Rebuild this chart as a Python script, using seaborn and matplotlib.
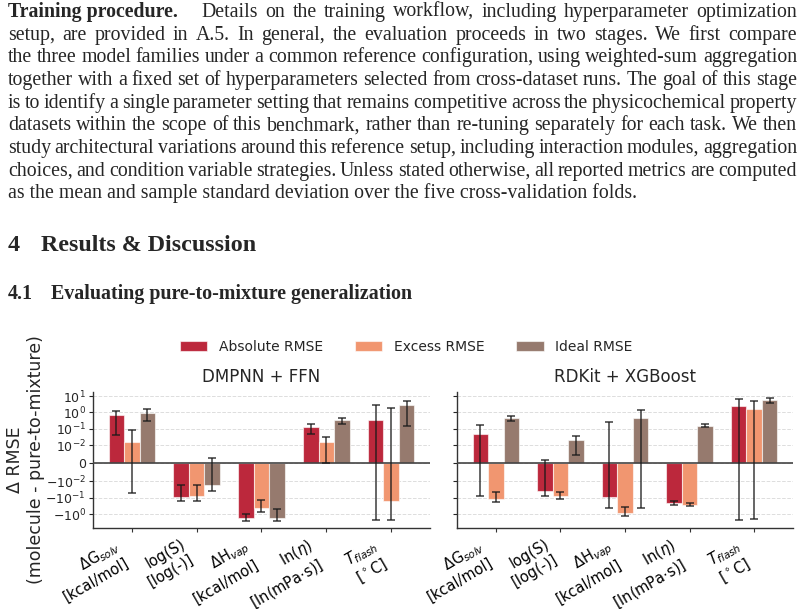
import numpy as np
import pandas as pd
import matplotlib
matplotlib.use("Agg")
import matplotlib.pyplot as plt
from matplotlib.ticker import NullLocator
import seaborn as sns

## dados ##
properties = ["dG_solv", "logS", "dH_vap", "ln_eta", "T_flash"]
tick_labels = [r"$\Delta$G$_{solv}$" + "\n[kcal/mol]",
               "log(S)\n[log(-)]",
               r"$\Delta$H$_{vap}$" + "\n[kcal/mol]",
               r"ln($\eta$)" + "\n" + r"[ln(mPa$\cdot$s)]",
               r"$T_{flash}$" + "\n" + r"[$^\circ$C]"]
metrics = ["Absolute RMSE", "Excess RMSE", "Ideal RMSE"]
colors = ["#BC283C", "#F19670", "#967A6E"]

# DMPNN + FFN
dmpnn_abs = [0.68, -0.085, -1.85, 0.127, 0.35]
dmpnn_abs_err = [0.64, 0.068, 0.93, 0.078, 2.65]
dmpnn_exc = [0.015, -0.082, -0.45, 0.016, -0.15]
dmpnn_exc_err = [0.066, 0.066, 0.305, 0.016, 2.15]
dmpnn_ide = [0.95, -0.017, -1.65, 0.34, 2.7]
dmpnn_ide_err = [0.66, 0.020, 1.15, 0.15, 2.55]

# RDKit + XGBoost
rdkit_abs = [0.045, -0.036, -0.092, -0.216, 2.4]
rdkit_abs_err = [0.125, 0.038, 0.36, 0.068, 4.65]
rdkit_exc = [-0.118, -0.077, -0.84, -0.27, 1.65]
rdkit_exc_err = [0.072, 0.034, 0.48, 0.05, 3.7]
rdkit_ide = [0.47, 0.021, 0.48, 0.157, 5.55]
rdkit_ide_err = [0.18, 0.0165, 0.9, 0.03, 1.85]

modelos = [("DMPNN + FFN", [dmpnn_abs, dmpnn_exc, dmpnn_ide], [dmpnn_abs_err, dmpnn_exc_err, dmpnn_ide_err]),
           ("RDKit + XGBoost", [rdkit_abs, rdkit_exc, rdkit_ide], [rdkit_abs_err, rdkit_exc_err, rdkit_ide_err])]

sns.set_theme(style="ticks")
plt.rcParams["font.family"] = ["DejaVu Sans"]

W, H = 804, 609
fig = plt.figure(figsize=(W / 100, H / 100), dpi=100)
fig.patch.set_facecolor("white")

## texto do artigo acima do grafico ##
serif = "Liberation Serif"
body_size = 14.3
linhas = [
    "setup, are provided in A.5.  In general, the evaluation proceeds in two stages.  We first compare",
    "the three model families under a common reference configuration, using weighted-sum aggregation",
    "together with a fixed set of hyperparameters selected from cross-dataset runs. The goal of this stage",
    "is to identify a single parameter setting that remains competitive across the physicochemical property",
    "datasets within the scope of this benchmark, rather than re-tuning separately for each task. We then",
    "study architectural variations around this reference setup, including interaction modules, aggregation",
    "choices, and condition variable strategies. Unless stated otherwise, all reported metrics are computed",
]
ultima = "as the mean and sample standard deviation over the five cross-validation folds."

renderer = fig.canvas.get_renderer()
x_esq, x_dir = 8, 797


def fy(ypx):
    return 1 - ypx / H


def justificar(palavras, ybase, x0, x1):
    ts = [fig.text(0, fy(ybase), p, fontsize=body_size, family=serif, va="baseline") for p in palavras]
    larg = [t.get_window_extent(renderer).width for t in ts]
    gap = (x1 - x0 - sum(larg)) / (len(ts) - 1)
    x = x0
    for t, w in zip(ts, larg):
        t.set_x(x / W)
        x += w + gap


base0, passo = 17, 22.65
tb = fig.text(x_esq / W, fy(base0), "Training procedure.", fontsize=body_size, family=serif,
              weight="bold", va="baseline")
x_start = x_esq + tb.get_window_extent(renderer).width + 24
justificar("Details on the training workflow, including hyperparameter optimization".split(),
           base0, x_start, x_dir)
for i, linha in enumerate(linhas):
    justificar(linha.split(), base0 + passo * (i + 1), x_esq, x_dir)
fig.text(x_esq / W, fy(base0 + passo * 8), ultima, fontsize=body_size, family=serif, va="baseline")

fig.text(x_esq / W, fy(251), "4", fontsize=17.3, family=serif, weight="bold", va="baseline")
fig.text(41 / W, fy(251), "Results & Discussion", fontsize=17.3, family=serif, weight="bold", va="baseline")
fig.text(x_esq / W, fy(299), "4.1", fontsize=14.4, family=serif, weight="bold", va="baseline")
fig.text(51 / W, fy(299), "Evaluating pure-to-mixture generalization", fontsize=14.4, family=serif,
         weight="bold", va="baseline")

## graficos ##
ax_bottom = 1 - 528.3 / H
ax_h = (528.3 - 391.7) / H
ax1 = fig.add_axes([93 / W, ax_bottom, 337 / W, ax_h])
ax2 = fig.add_axes([457 / W, ax_bottom, 336 / W, ax_h])

yticks = [-1, -0.1, -0.01, 0, 0.01, 0.1, 1, 10]
yticklabels = [r"$-10^{0}$", r"$-10^{-1}$", r"$-10^{-2}$", "0", r"$10^{-2}$", r"$10^{-1}$", r"$10^{0}$", r"$10^{1}$"]

for k, (ax, (nome, vals, errs)) in enumerate(zip([ax1, ax2], modelos)):
    df = pd.DataFrame({
        "property": np.tile(properties, 3),
        "metric": np.repeat(metrics, len(properties)),
        "value": np.concatenate(vals),
    })
    sns.barplot(data=df, x="property", y="value", hue="metric", order=properties, hue_order=metrics,
                palette=colors, width=0.72, errorbar=None, ax=ax, saturation=1,
                edgecolor=(1, 1, 1, 0.6), linewidth=0.8, legend=(k == 0))
    for cont, err in zip(ax.containers, errs):
        xs = [b.get_x() + b.get_width() / 2 for b in cont]
        ys = [b.get_height() for b in cont]
        ax.errorbar(xs, ys, yerr=err, fmt="none", ecolor="#1a1a1a", alpha=0.85,
                    elinewidth=1.1, capsize=3, capthick=1.1, zorder=5)
    ax.set_yscale("symlog", linthresh=0.01)
    ax.set_ylim(-7.4, 18.7)
    ax.set_xlim(-0.6, 4.6)
    ax.set_yticks(yticks)
    ax.yaxis.set_minor_locator(NullLocator())
    ax.axhline(0, color="#444444", lw=1.2, zorder=4)
    ax.grid(axis="y", ls="--", color="#dddddd", lw=0.7)
    ax.set_axisbelow(True)
    ax.set_title(nome, fontsize=12, pad=7)
    ax.set_xlabel("")
    ax.set_xticks(range(len(properties)))
    ax.set_xticklabels(tick_labels, rotation=30, ha="right", va="top", fontsize=10.5)
    ax.tick_params(axis="x", length=3, width=0.8, pad=3, colors="#333333", labelcolor="black")
    ax.tick_params(axis="y", length=3, width=0.8, pad=2, labelsize=9)
    for s in ["left", "bottom"]:
        ax.spines[s].set_color("#333333")
        ax.spines[s].set_linewidth(1.0)
    sns.despine(ax=ax)
    if k == 0:
        ax.set_yticklabels(yticklabels)
        ax.set_ylabel("Δ RMSE\n(molecule - pure-to-mixture)", fontsize=12.5)
        ax.yaxis.set_label_coords(-0.142, 0.5)
    else:
        ax.set_yticklabels([])
        ax.set_ylabel("")

handles, labels = ax1.get_legend_handles_labels()
ax1.get_legend().remove()
fig.legend(handles, labels, loc="center", bbox_to_anchor=(0.505, fy(347)), ncol=3, frameon=False,
           fontsize=10, columnspacing=2.3, handlelength=2.0, handleheight=0.7)

plt.savefig("out.png", dpi=100)
